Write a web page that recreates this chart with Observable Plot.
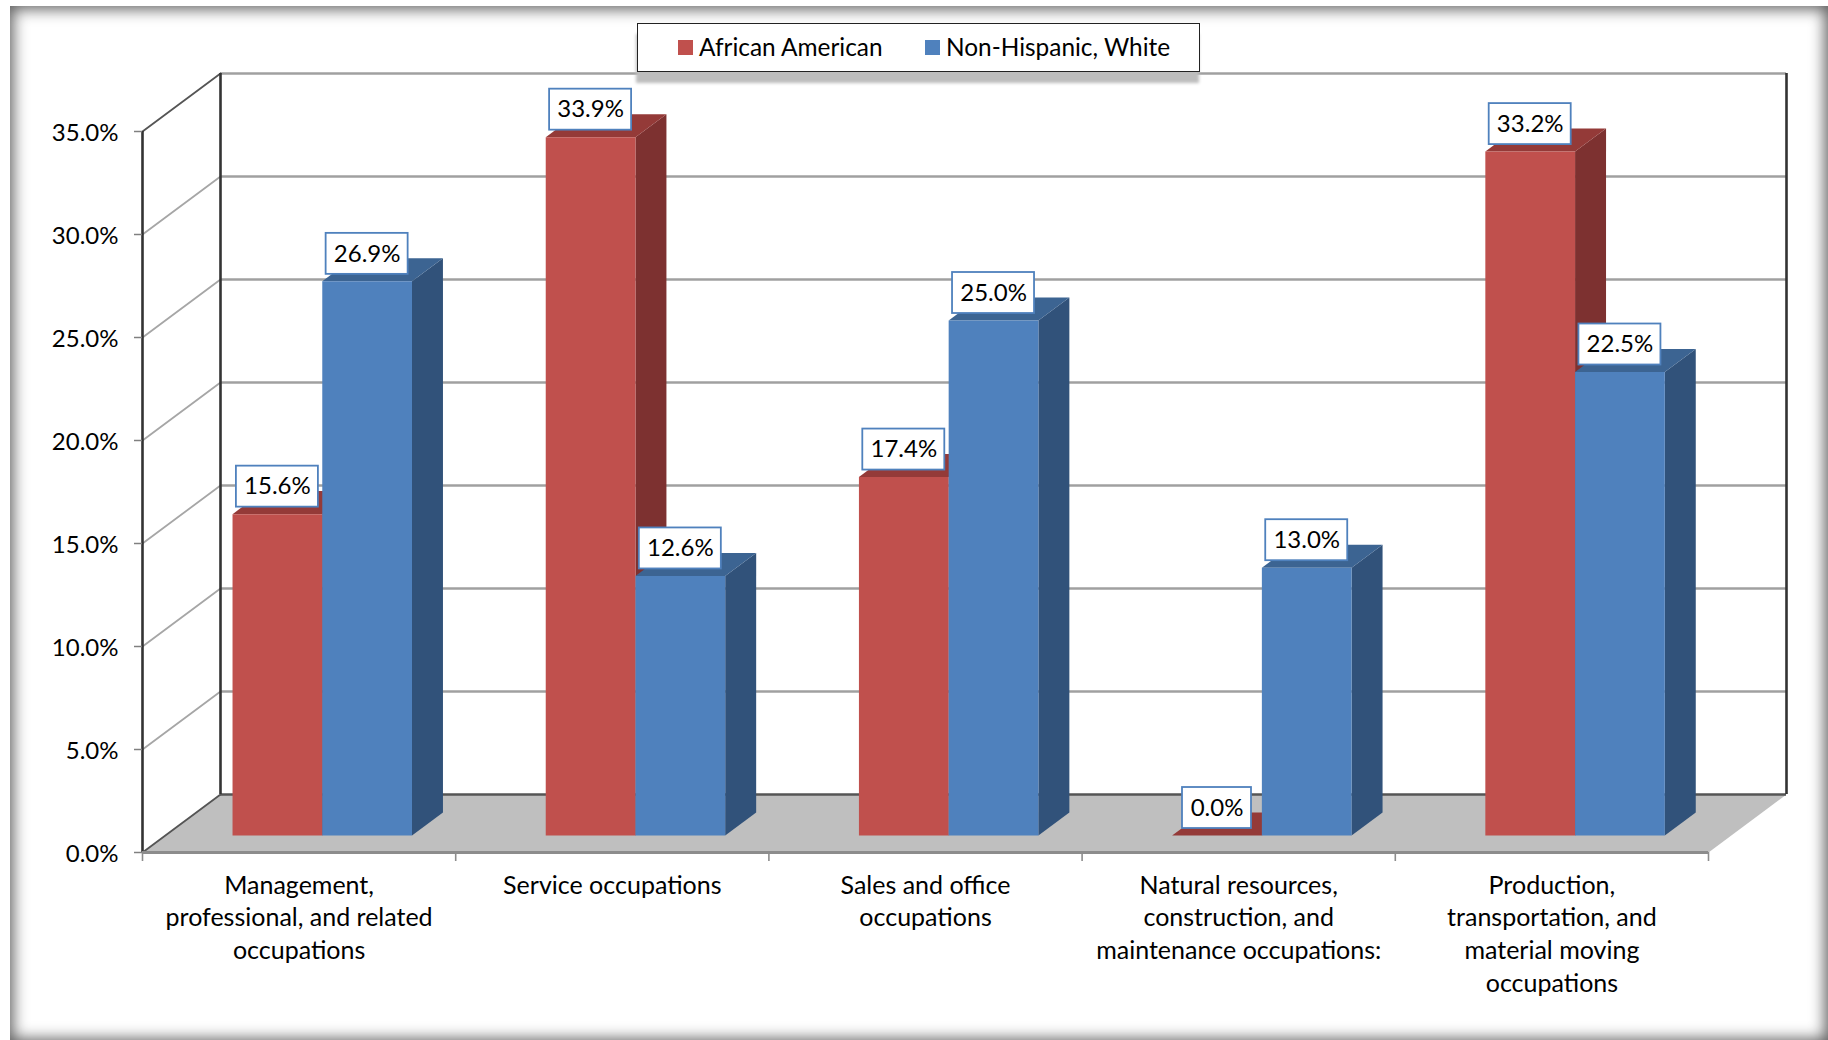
<!DOCTYPE html>
<html>
<head>
<meta charset="utf-8">
<script src="https://cdn.jsdelivr.net/npm/d3@7"></script>
<script src="https://cdn.jsdelivr.net/npm/@observablehq/plot@0.6"></script>
<style>
html,body{margin:0;padding:0;background:#fff;width:1828px;height:1040px;overflow:hidden;font-family:Lato,sans-serif;}
#frame{position:absolute;left:10px;top:6px;width:1818px;height:1036px;background:#fff;box-shadow:inset 0 0 15px 3px #5c5c5c;}
#chart{position:absolute;left:0;top:0;}
#legend{position:absolute;left:637px;top:23px;width:561px;height:47px;background:#fff;border:1px solid #222;box-shadow:-1px 11px 3px #bdbdbd;font-size:24.4px;color:#000;}
#legend span{position:absolute;white-space:nowrap;line-height:45px;top:0;}
#legend i{position:absolute;top:16px;width:15px;height:15px;display:block;}
</style>
</head>
<body>
<div id="frame"></div>
<div id="chart"></div>
<div id="legend"></div>
<script>
const categories = [
  "Management,\nprofessional, and related\noccupations",
  "Service occupations",
  "Sales and office\noccupations",
  "Natural resources,\nconstruction, and\nmaintenance occupations:",
  "Production,\ntransportation, and\nmaterial moving\noccupations"
];
const seriesNames = ["African American", "Non-Hispanic, White"];
const africanAmerican = [15.6, 33.9, 17.4, 0.0, 33.2];
const nonHispanicWhite = [26.9, 12.6, 25.0, 13.0, 22.5];
const yTicks = [0, 5, 10, 15, 20, 25, 30, 35];
const xTicks = [0, 1, 2, 3, 4, 5];
const seriesColors = [
  {front:"#c0504d", side:"#7d3130", top:"#943a38"},
  {front:"#4f81bd", side:"#31527a", top:"#3c6492"}
];

// Plot frame in pixels
const W = 1828, H = 1040, mL = 142, mR = W - 1708, mT = 131, mB = H - 852;
const pxX = (1708 - 142) / 5, pxY = (852 - 131) / 35;
// Depth vector of the 3D box, in data units
const DX = 78 / pxX, DY = 58 / pxY;
const d1 = 0.293, d2 = 0.69;         // depth of bar front and back planes
const gap = 0.2145, barW = 0.2865;   // fraction of a category
const p = (x, y, d) => ({x: x + d * DX, y: y + d * DY});

const floor = [p(0,0,0), p(5,0,0), p(5,0,1), p(0,0,1)].map(q => ({...q, id:"floor", color:"#bfbfbf"}));

// bar faces in painter's order
const faces = [];
const labels = [];
categories.forEach((c, i) => {
  [africanAmerican, nonHispanicWhite].forEach((vals, s) => {
    const v = vals[i], L = i + gap + s * barW, R = L + barW, col = seriesColors[s];
    const add = (id, color, pts) => pts.forEach(q => faces.push({...q, id: `${i}-${s}-${id}`, color}));
    add("side", col.side, [p(R,0,d1), p(R,0,d2), p(R,v,d2), p(R,v,d1)]);
    add("top", col.top, [p(L,v,d1), p(R,v,d1), p(R,v,d2), p(L,v,d2)]);
    add("front", col.front, [p(L,0,d1), p(R,0,d1), p(R,v,d1), p(L,v,d1)]);
    const a = p((L+R)/2, v, d1);
    const t = v.toFixed(1) + "%";
    labels.push({x:a.x, y:a.y + 27.5/pxY, t, hw:(t.length > 4 ? 41 : 34.5) / pxX});
  });
});
const boxH = 20.5 / pxY;

const gridBack = yTicks.filter(t => t > 0).map(t => ({y: t + DY}));
const diag = yTicks.flatMap(t => [p(0,t,0), p(0,t,1)].map(q => ({...q, t})));

const fs = 25, fsSmall = 24;
const chart = Plot.plot({
  width: W, height: H,
  marginLeft: mL, marginRight: mR, marginTop: mT, marginBottom: mB,
  style: {background: "transparent", fontFamily: "Lato, sans-serif", color: "#000", overflow: "visible"},
  x: {type: "linear", domain: [0, 5], axis: null},
  y: {type: "linear", domain: [0, 35], axis: null},
  color: {type: "identity"},
  marks: [
    Plot.ruleY(gridBack, {y: "y", x1: DX, x2: 5 + DX, stroke: "#a0a0a0", strokeWidth: 2.6}),
    Plot.line(floor, {x: "x", y: "y", z: "id", fill: "color", stroke: "none", curve: "linear-closed"}),
    Plot.ruleY([DY], {x1: DX, x2: 5 + DX, stroke: "#555", strokeWidth: 2.6}),
    Plot.line(diag.filter(d => d.t > 0 && d.t < 35), {x: "x", y: "y", z: "t", stroke: "#a6a6a6", strokeWidth: 1.8}),
    Plot.line(diag.filter(d => d.t === 0 || d.t === 35), {x: "x", y: "y", z: "t", stroke: "#555", strokeWidth: 1.8}),
    Plot.ruleX([0], {y1: 0, y2: 35, stroke: "#333", strokeWidth: 2.6}),
    Plot.ruleX([DX, 5 + DX], {y1: DY, y2: 35 + DY, stroke: "#333", strokeWidth: 2.6}),
    Plot.line(faces, {x: "x", y: "y", z: "id", fill: "color", stroke: "none", curve: "linear-closed"}),
    Plot.ruleY([0], {x1: 0, x2: 5, stroke: "#8c8c8c", strokeWidth: 3}),
    Plot.axisY({ticks: yTicks, tickFormat: d => d.toFixed(1) + "%", tickSize: 8, tickPadding: 17, fontSize: fsSmall, stroke: "#808080", strokeWidth: 1.5, color: "#000", label: null, text: null}),
    Plot.text(yTicks, {x: 0, y: d => d, text: d => d.toFixed(1) + "%", textAnchor: "end", dx: -24, dy: 2, fontSize: fsSmall, fill: "#000"}),
    Plot.ruleX(xTicks, {y1: 0, y2: -9 / pxY, stroke: "#8c8c8c", strokeWidth: 1.6}),
    Plot.rect(labels, {x1: d => d.x - d.hw, x2: d => d.x + d.hw, y1: d => d.y - boxH, y2: d => d.y + boxH, fill: "#fff", stroke: "#4f81bd", strokeWidth: 1.8}),
    Plot.text(labels, {x: "x", y: "y", text: "t", fontSize: fsSmall, fill: "#000"}),
    Plot.text(categories, {x: (d, i) => i + 0.5, y: () => 0, text: d => d, dy: 18, lineAnchor: "top", lineHeight: 32.7 / fs, fontSize: fs, fill: "#000", textAnchor: "middle"})
  ]
});
document.getElementById("chart").appendChild(chart);

const lg = document.getElementById("legend");
[[40, 61], [287, 308]].forEach(([sx, tx], s) => {
  const i = document.createElement("i");
  i.style.left = sx + "px"; i.style.background = seriesColors[s].front;
  const t = document.createElement("span");
  t.style.left = tx + "px"; t.textContent = seriesNames[s];
  lg.append(i, t);
});
</script>
</body>
</html>
